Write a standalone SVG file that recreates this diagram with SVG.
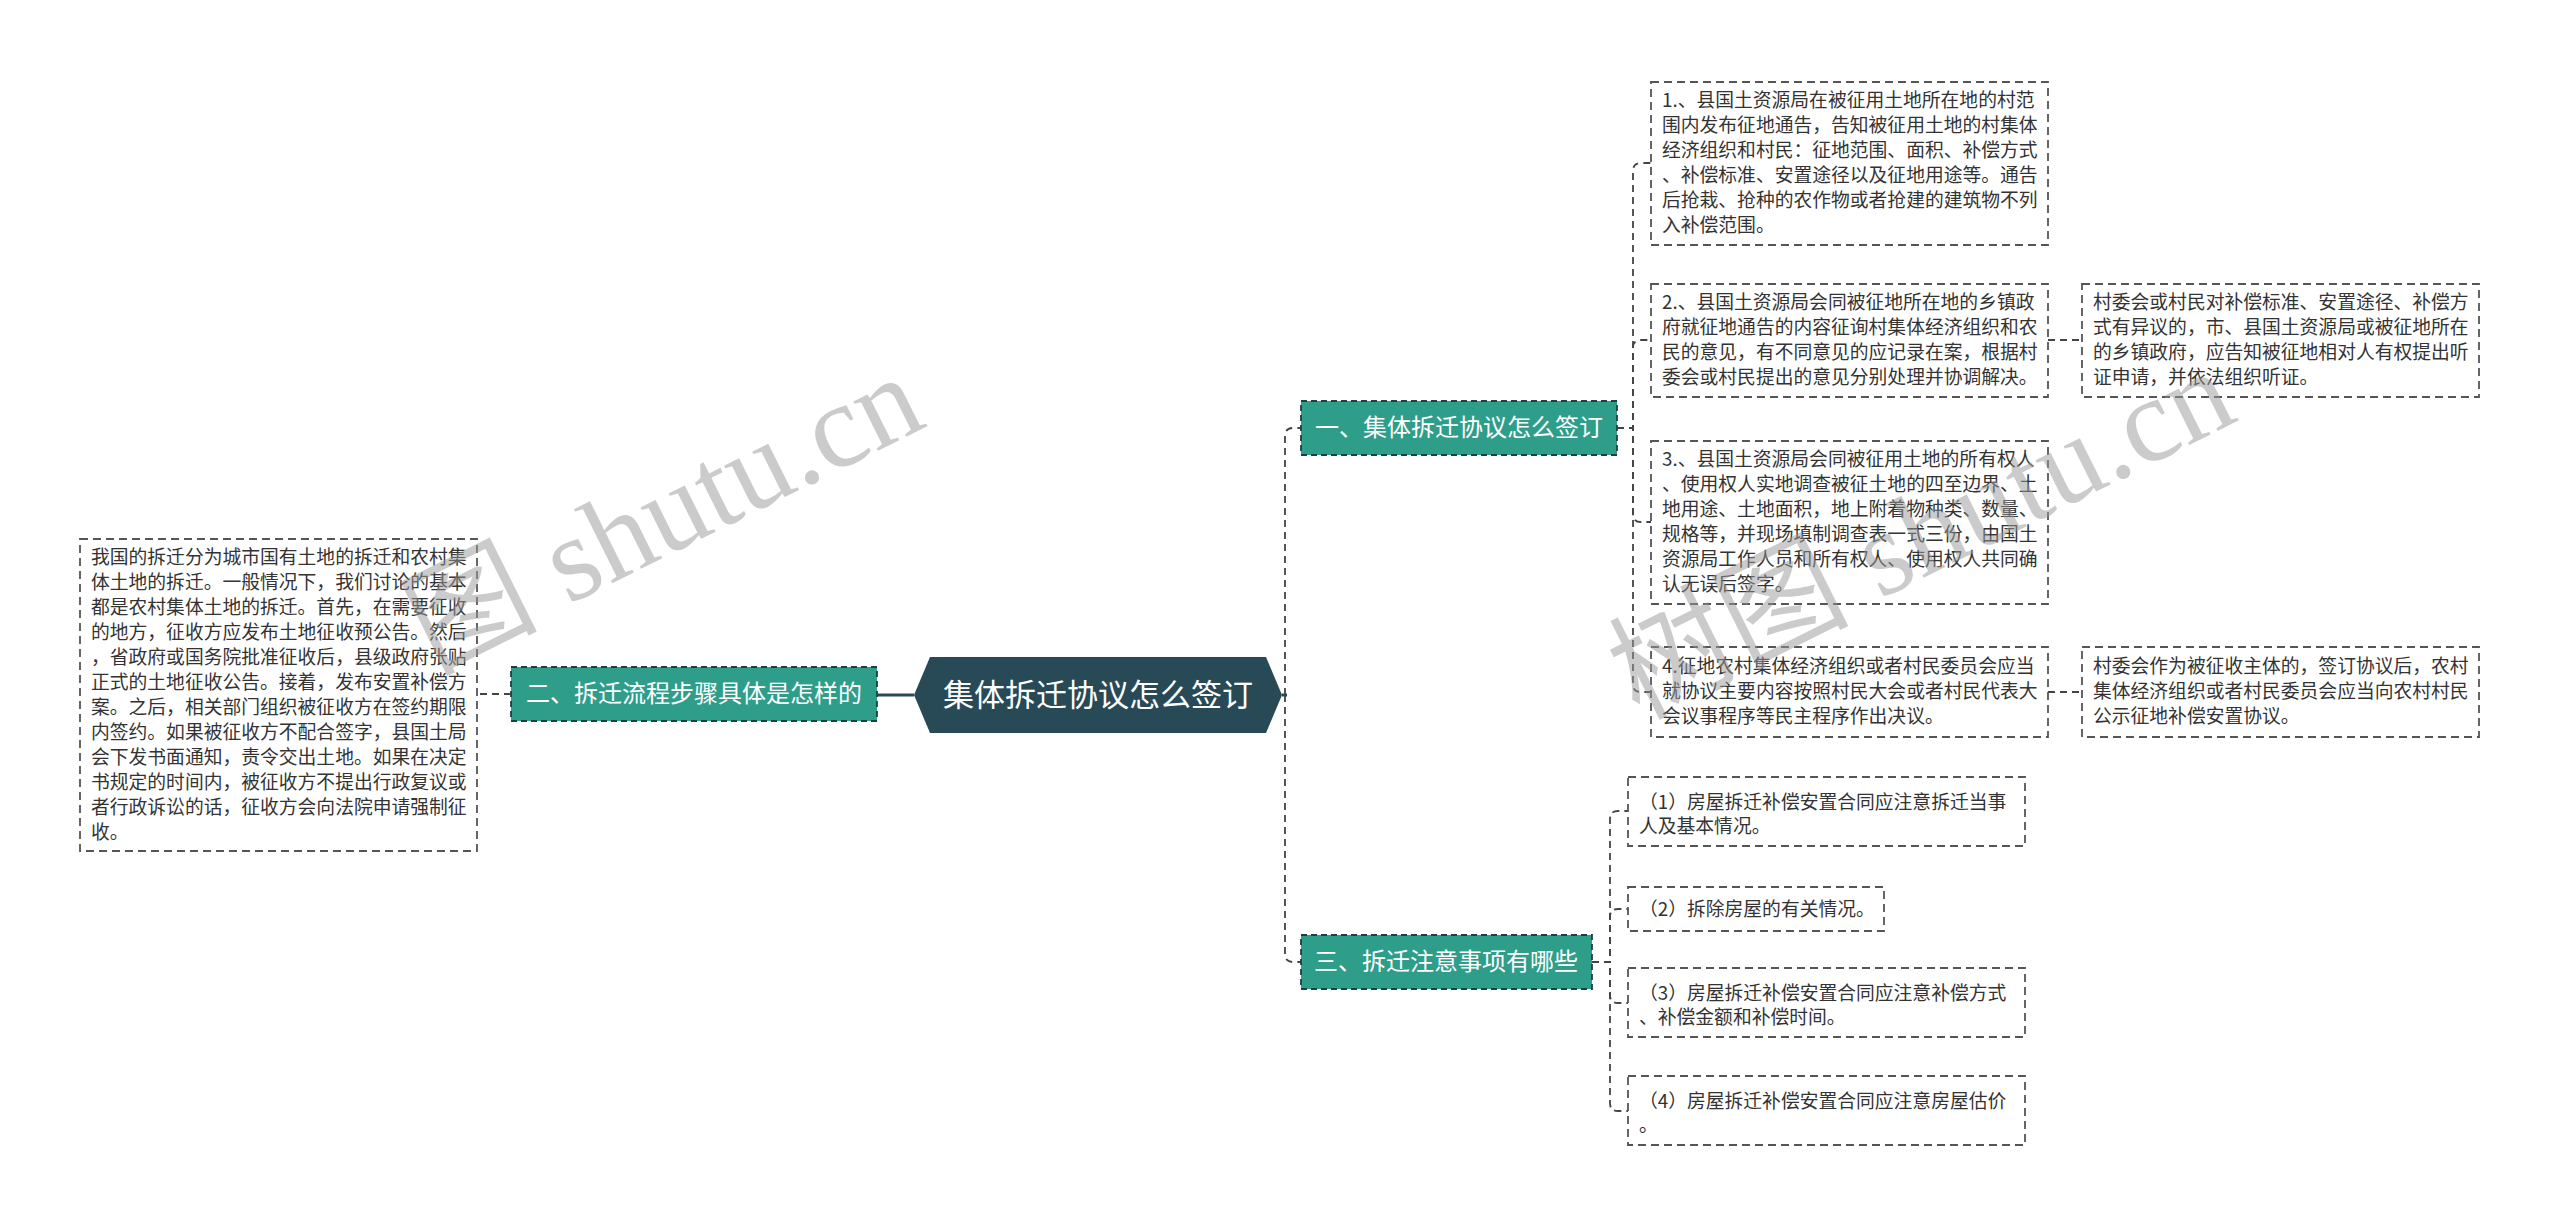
<svg xmlns="http://www.w3.org/2000/svg" width="2560" height="1226" viewBox="0 0 2560 1226">
<style>
.bg{fill:#ffffff}
.leaf{fill:#ffffff;stroke:#555;stroke-width:1.8;stroke-dasharray:8 5}
.lt{font-family:"Noto Sans CJK SC","Noto Sans",sans-serif;font-size:18.8px;fill:#333}
.topic{fill:#2e9e8b;stroke:#1d3f44;stroke-width:1.8;stroke-dasharray:6 4}
.tt{font-family:"Noto Sans CJK SC","Noto Sans",sans-serif;font-size:24px;fill:#ffffff;text-anchor:middle}
.root{fill:#284a57}
.rt{font-family:"Noto Sans CJK SC","Noto Sans",sans-serif;font-size:31px;fill:#ffffff;text-anchor:middle}
.c{fill:none;stroke:#444;stroke-width:1.8;stroke-dasharray:7 5}
.cs{fill:none;stroke:#284a57;stroke-width:3}
.wm{font-family:"Liberation Serif","Noto Sans CJK SC",serif;font-size:120px;fill:#999;opacity:0.5}
</style>
<rect class="bg" x="0" y="0" width="2560" height="1226"/>
<g id="connectors">
<path class="cs" d="M914 695 H877"/>
<path class="c" d="M511 694 H477"/>
<path class="cs" d="M1282 695 H1287"/>
<path class="c" d="M1285 695 V436 Q1285 428 1293 428 H1301"/>
<path class="c" d="M1285 695 V954 Q1285 962 1293 962 H1301"/>
<path class="c" d="M1617 428 H1633 V171 Q1633 163 1641 163 H1651"/>
<path class="c" d="M1617 428 H1633 V348 Q1633 340 1641 340 H1651"/>
<path class="c" d="M1617 428 H1633 V514 Q1633 522 1641 522 H1651"/>
<path class="c" d="M1617 428 H1633 V684 Q1633 692 1641 692 H1651"/>
<path class="c" d="M2048 340 H2082"/>
<path class="c" d="M2048 692 H2082"/>
<path class="c" d="M1592 962 H1610 V819 Q1610 811 1618 811 H1628"/>
<path class="c" d="M1592 962 H1610 V917 Q1610 909 1618 909 H1628"/>
<path class="c" d="M1592 962 H1610 V995 Q1610 1003 1618 1003 H1628"/>
<path class="c" d="M1592 962 H1610 V1103 Q1610 1111 1618 1111 H1628"/>
</g>
<g id="root">
<polygon class="root" points="914,695 930,657 1266,657 1282,695 1266,733 930,733"/>
<text class="rt" x="1098" y="706">集体拆迁协议怎么签订</text>
</g>
<g id="topic2">
<rect class="topic" x="511" y="667" width="366" height="54"/>
<text class="tt" x="694" y="702">二、拆迁流程步骤具体是怎样的</text>
</g>
<g id="topic1">
<rect class="topic" x="1301" y="401" width="316" height="54"/>
<text class="tt" x="1459" y="436">一、集体拆迁协议怎么签订</text>
</g>
<g id="topic3">
<rect class="topic" x="1301" y="935" width="291" height="54"/>
<text class="tt" x="1446" y="970">三、拆迁注意事项有哪些</text>
</g>
<g id="leftleaf">
<rect class="leaf" x="80" y="539" width="397" height="312"/>
<text class="lt" x="91" y="564">我国的拆迁分为城市国有土地的拆迁和农村集</text>
<text class="lt" x="91" y="589">体土地的拆迁。一般情况下，我们讨论的基本</text>
<text class="lt" x="91" y="614">都是农村集体土地的拆迁。首先，在需要征收</text>
<text class="lt" x="91" y="639">的地方，征收方应发布土地征收预公告。然后</text>
<text class="lt" x="91" y="664">，省政府或国务院批准征收后，县级政府张贴</text>
<text class="lt" x="91" y="689">正式的土地征收公告。接着，发布安置补偿方</text>
<text class="lt" x="91" y="714">案。之后，相关部门组织被征收方在签约期限</text>
<text class="lt" x="91" y="739">内签约。如果被征收方不配合签字，县国土局</text>
<text class="lt" x="91" y="764">会下发书面通知，责令交出土地。如果在决定</text>
<text class="lt" x="91" y="789">书规定的时间内，被征收方不提出行政复议或</text>
<text class="lt" x="91" y="814">者行政诉讼的话，征收方会向法院申请强制征</text>
<text class="lt" x="91" y="839">收。</text>
</g>
<g id="leaf1">
<rect class="leaf" x="1651" y="82" width="397" height="163"/>
<text class="lt" x="1662" y="107">1.、县国土资源局在被征用土地所在地的村范</text>
<text class="lt" x="1662" y="132">围内发布征地通告，告知被征用土地的村集体</text>
<text class="lt" x="1662" y="157">经济组织和村民：征地范围、面积、补偿方式</text>
<text class="lt" x="1662" y="182">、补偿标准、安置途径以及征地用途等。通告</text>
<text class="lt" x="1662" y="207">后抢栽、抢种的农作物或者抢建的建筑物不列</text>
<text class="lt" x="1662" y="232">入补偿范围。</text>
</g>
<g id="leaf2">
<rect class="leaf" x="1651" y="284" width="397" height="113"/>
<text class="lt" x="1662" y="309">2.、县国土资源局会同被征地所在地的乡镇政</text>
<text class="lt" x="1662" y="334">府就征地通告的内容征询村集体经济组织和农</text>
<text class="lt" x="1662" y="359">民的意见，有不同意见的应记录在案，根据村</text>
<text class="lt" x="1662" y="384">委会或村民提出的意见分别处理并协调解决。</text>
</g>
<g id="leaf2child">
<rect class="leaf" x="2082" y="284" width="397" height="113"/>
<text class="lt" x="2093" y="309">村委会或村民对补偿标准、安置途径、补偿方</text>
<text class="lt" x="2093" y="334">式有异议的，市、县国土资源局或被征地所在</text>
<text class="lt" x="2093" y="359">的乡镇政府，应告知被征地相对人有权提出听</text>
<text class="lt" x="2093" y="384">证申请，并依法组织听证。</text>
</g>
<g id="leaf3">
<rect class="leaf" x="1651" y="441" width="397" height="163"/>
<text class="lt" x="1662" y="466">3.、县国土资源局会同被征用土地的所有权人</text>
<text class="lt" x="1662" y="491">、使用权人实地调查被征土地的四至边界、土</text>
<text class="lt" x="1662" y="516">地用途、土地面积，地上附着物种类、数量、</text>
<text class="lt" x="1662" y="541">规格等，并现场填制调查表一式三份，由国土</text>
<text class="lt" x="1662" y="566">资源局工作人员和所有权人、使用权人共同确</text>
<text class="lt" x="1662" y="591">认无误后签字。</text>
</g>
<g id="leaf4">
<rect class="leaf" x="1651" y="647" width="397" height="90"/>
<text class="lt" x="1662" y="673">4.征地农村集体经济组织或者村民委员会应当</text>
<text class="lt" x="1662" y="698">就协议主要内容按照村民大会或者村民代表大</text>
<text class="lt" x="1662" y="723">会议事程序等民主程序作出决议。</text>
</g>
<g id="leaf4child">
<rect class="leaf" x="2082" y="647" width="397" height="90"/>
<text class="lt" x="2093" y="673">村委会作为被征收主体的，签订协议后，农村</text>
<text class="lt" x="2093" y="698">集体经济组织或者村民委员会应当向农村村民</text>
<text class="lt" x="2093" y="723">公示征地补偿安置协议。</text>
</g>
<g id="sub1">
<rect class="leaf" x="1628" y="777" width="397" height="69"/>
<text class="lt" x="1639" y="809">（1）房屋拆迁补偿安置合同应注意拆迁当事</text>
<text class="lt" x="1639" y="833">人及基本情况。</text>
</g>
<g id="sub2">
<rect class="leaf" x="1628" y="887" width="256" height="44"/>
<text class="lt" x="1639" y="916">（2）拆除房屋的有关情况。</text>
</g>
<g id="sub3">
<rect class="leaf" x="1628" y="968" width="397" height="69"/>
<text class="lt" x="1639" y="1000">（3）房屋拆迁补偿安置合同应注意补偿方式</text>
<text class="lt" x="1639" y="1024">、补偿金额和补偿时间。</text>
</g>
<g id="sub4">
<rect class="leaf" x="1628" y="1076" width="397" height="69"/>
<text class="lt" x="1639" y="1108">（4）房屋拆迁补偿安置合同应注意房屋估价</text>
<text class="lt" x="1639" y="1132">。</text>
</g>
<g id="watermarks">
<text class="wm" transform="translate(434,672) rotate(-26.5)">图 shutu.cn</text>
<text class="wm" transform="translate(1638,720) rotate(-26.5)">树图 shutu.cn</text>
</g>
</svg>
